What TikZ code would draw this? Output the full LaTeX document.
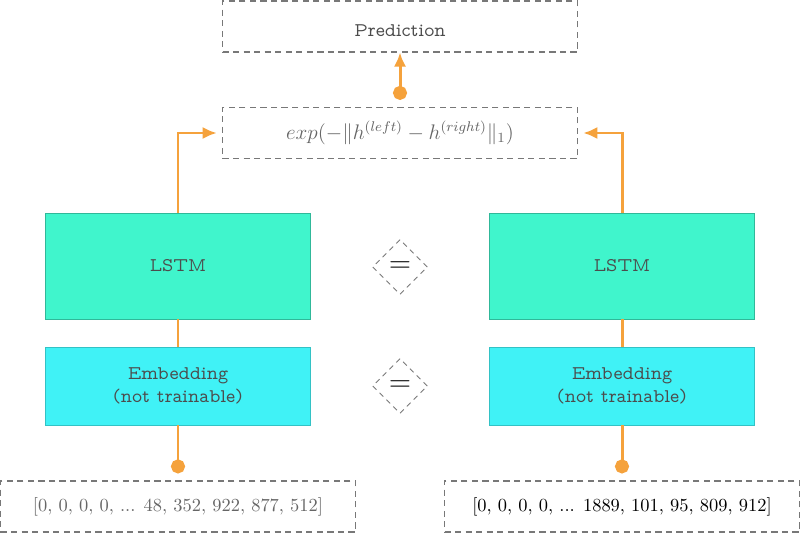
\documentclass[tikz,border=0pt]{standalone}
\usepackage{xcolor}
\usepackage{tikz}
\usetikzlibrary{arrows.meta, shapes.geometric}
\definecolor{lstmfill}{RGB}{64,245,204}
\definecolor{embfill}{RGB}{64,242,246}
\definecolor{linkorange}{RGB}{245,162,60}
\definecolor{boxline}{RGB}{120,120,120}
\tikzset{
    dashbox/.style={
        rectangle,
        draw=boxline,
        dash pattern=on 3.5pt off 2.5pt,
        line width=0.6pt,
        minimum width=7.1cm,
        minimum height=1.02cm
    },
    layer/.style={
        rectangle,
        minimum width=5.3cm,
        align=center,
        text=black!70,
        font=\fontfamily{lmvtt}\selectfont\fontsize{11}{13.5}\selectfont
    },
    same/.style={
        diamond,
        draw=boxline,
        dash pattern=on 3pt off 2.5pt,
        line width=0.5pt,
        minimum width=1.1cm,
        minimum height=1.1cm,
        inner sep=0pt,
        font=\LARGE
    },
    link/.style={
        draw=linkorange,
        line width=1.7pt
    }
}

\begin{document}
\begin{tikzpicture}[
    every node/.style={font=\normalsize},
    dot/.style={{Circle[length=8pt]}-, shorten <=4pt},
    tip/.style={-{Latex[length=8pt, width=7pt]}}
]
\useasboundingbox (0,0) rectangle (16,-10.66);

% output part
\node[dashbox, text=black!70, font=\fontfamily{lmvtt}\selectfont\fontsize{11}{13}\selectfont, text height=11pt, text depth=0pt] (pred) at (8,-0.53) {Prediction};
\node[dashbox, text=black!60] (dist) at (8,-2.66) {\large $exp(-\|h^{(left)} - h^{(right)}\|_1)$};

% the two twin branches
\node[layer, fill=lstmfill, draw=lstmfill!75!black, minimum height=2.12cm] (lstmL) at (3.56,-5.32) {LSTM};
\node[layer, fill=lstmfill, draw=lstmfill!75!black, minimum height=2.12cm] (lstmR) at (12.44,-5.32) {LSTM};
\node[layer, fill=embfill, draw=embfill!80!black, minimum height=1.56cm] (embL) at (3.56,-7.72) {Embedding\\(not trainable)};
\node[layer, fill=embfill, draw=embfill!80!black, minimum height=1.56cm] (embR) at (12.44,-7.72) {Embedding\\(not trainable)};

% shared weights
\node[same] (eqLstm) at (8,-5.34) {$=$};
\node[same] (eqEmb) at (8,-7.72) {$=$};

% inputs
\node[dashbox, text=black!60, font=\fontsize{10.5}{12}\selectfont] (inL) at (3.56,-10.13) {[0, 0, 0, 0, ... 48, 352, 922, 877, 512]};
\node[dashbox, text=black, font=\fontsize{10.5}{12}\selectfont] (inR) at (12.44,-10.13) {[0, 0, 0, 0, ... 1889, 101, 95, 809, 912]};

% connectors
\draw[link, dot] (inL) -- (embL);
\draw[link, dot] (inR) -- (embR);
\draw[link] (embL) -- (lstmL);
\draw[link] (embR) -- (lstmR);
\draw[link, tip, shorten >=3pt] (lstmL.north) |- (dist.west);
\draw[link, tip, shorten >=3pt] (lstmR.north) |- (dist.east);
\draw[link, {Circle[length=8pt]}-{Latex[length=8pt, width=7pt]}, shorten <=4pt] (dist) -- (pred);

\end{tikzpicture}
\end{document}
